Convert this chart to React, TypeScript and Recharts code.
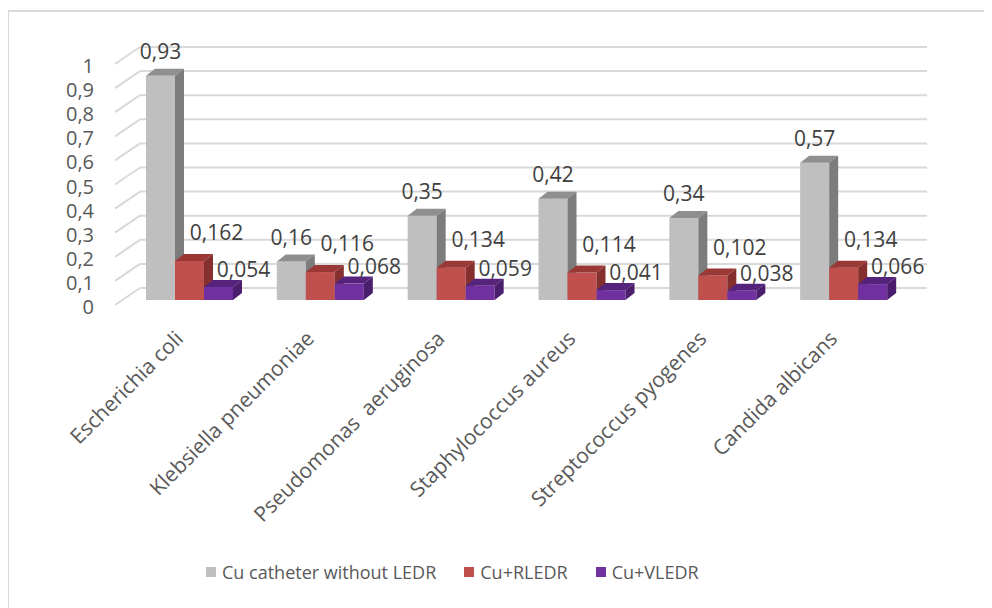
import React from "react";
import { BarChart, Bar, XAxis, YAxis, CartesianGrid, LabelList } from "recharts";

const categories = [
  "Escherichia coli",
  "Klebsiella pneumoniae",
  "Pseudomonas  aeruginosa",
  "Staphylococcus aureus",
  "Streptococcus pyogenes",
  "Candida albicans",
];
const withoutLedr = [0.93, 0.16, 0.35, 0.42, 0.34, 0.57];
const rLedr = [0.162, 0.116, 0.134, 0.114, 0.102, 0.134];
const vLedr = [0.054, 0.068, 0.059, 0.041, 0.038, 0.066];
const yTicks = [0, 0.1, 0.2, 0.3, 0.4, 0.5, 0.6, 0.7, 0.8, 0.9, 1];
const seriesNames = ["Cu catheter without LEDR", "Cu+RLEDR", "Cu+VLEDR"];

const data = categories.map((name, i) => ({
  name,
  a: withoutLedr[i],
  b: rLedr[i],
  c: vLedr[i],
}));

const FONT = "'Open Sans', 'Noto Sans', sans-serif";
const TEXT = "#595959";
const GRID = "#d9d9d9";
const W = 983;
const H = 596;
const PLOT_BOTTOM = 288;
const DX = 9;
const DY = 7;

const palette = [
  { front: "#BFBFBF", top: "#8f8f8f", side: "#7c7c7c" },
  { front: "#C0504D", top: "#9a3836", side: "#85302e" },
  { front: "#7030A0", top: "#55227c", side: "#4a1e6c" },
];

// label nudges per series (gray above, red/purple pushed right like excel did)
const labelShift = [
  { x: 0, y: -24 },
  { x: 27, y: -28 },
  { x: 25, y: -17 },
];

const fmt = (v: number) => String(v).replace(".", ",");

const Bar3D = (props: any) => {
  const { x, y, width, height, col } = props;
  const c = palette[col];
  if (height == null) return null;
  const b = y + height;
  return (
    <g>
      <rect x={x} y={y} width={width} height={height} fill={c.front} />
      <polygon
        points={`${x},${y} ${x + DX},${y - DY} ${x + width + DX},${y - DY} ${x + width},${y}`}
        fill={c.top}
      />
      <polygon
        points={`${x + width},${y} ${x + width + DX},${y - DY} ${x + width + DX},${b - DY} ${x + width},${b}`}
        fill={c.side}
      />
    </g>
  );
};

const makeLabel = (col: number) => (props: any) => {
  const { x, y, width, value } = props;
  const s = labelShift[col];
  return (
    <text
      x={x + width / 2 + s.x}
      y={y + s.y}
      dy="0.35em"
      textAnchor="middle"
      fontFamily={FONT}
      fontSize={21}
      fill="#404040"
    >
      {fmt(value)}
    </text>
  );
};

// back wall lines with the little slanted floor lines on the left
const gridLine = (props: any) => {
  const { x1, x2, y1, key } = props;
  return (
    <g key={key}>
      <line x1={x1 - 9} y1={y1 + 5} x2={x1 + 16} y2={y1 - 12} stroke={GRID} strokeWidth={2} />
      <line x1={x1 + 16} y1={y1 - 12} x2={x2 + 18} y2={y1 - 12} stroke={GRID} strokeWidth={2} />
    </g>
  );
};

const YTick = (props: any) => {
  const { y, payload } = props;
  return (
    <text x={85} y={y + 7} dy="0.35em" textAnchor="end" fontFamily={FONT} fontSize={20} fill={TEXT}>
      {fmt(payload.value)}
    </text>
  );
};

const XTick = (props: any) => {
  const { x, payload } = props;
  const tx = x - 5;
  const ty = PLOT_BOTTOM + 40;
  return (
    <text
      x={tx}
      y={ty}
      transform={`rotate(-45, ${tx}, ${ty})`}
      textAnchor="end"
      fontFamily={FONT}
      fontSize={21}
      fill={TEXT}
      style={{ whiteSpace: "pre" }}
    >
      {payload.value}
    </text>
  );
};

const LegendBox = () => (
  <div
    style={{
      position: "absolute",
      left: 197,
      top: 547,
      display: "flex",
      alignItems: "center",
      fontFamily: FONT,
      fontSize: 18,
      lineHeight: "26px",
      color: TEXT,
    }}
  >
    {seriesNames.map((n, i) => (
      <div key={n} style={{ display: "flex", alignItems: "center", marginRight: 28 }}>
        <span style={{ width: 10, height: 10, background: palette[i].front, marginRight: 6, display: "inline-block" }} />
        <span>{n}</span>
      </div>
    ))}
  </div>
);

export default function App() {
  return (
    <div
      style={{
        position: "relative",
        marginLeft: -1,
        marginTop: 2,
        width: W,
        height: H,
        borderLeft: `2px solid ${GRID}`,
        borderTop: `2px solid ${GRID}`,
        background: "#fff",
      }}
    >
      <BarChart
        width={W}
        height={H}
        data={data}
        margin={{ top: 47, right: 83, bottom: H - PLOT_BOTTOM - 1, left: 55 }}
        barGap={0}
      >
        <CartesianGrid vertical={false} horizontal={gridLine} />
        <XAxis dataKey="name" axisLine={false} tickLine={false} tick={<XTick />} interval={0} height={1} />
        <YAxis
          domain={[0, 1]}
          ticks={yTicks}
          interval={0}
          axisLine={false}
          tickLine={false}
          width={60}
          tick={<YTick />}
        />
        {["a", "b", "c"].map((k, i) => (
          <Bar
            key={k}
            dataKey={k}
            name={seriesNames[i]}
            barSize={29}
            fill={palette[i].front}
            shape={(p: any) => <Bar3D {...p} col={i} />}
            isAnimationActive={false}
          >
            <LabelList dataKey={k} content={makeLabel(i)} />
          </Bar>
        ))}
      </BarChart>
      <LegendBox />
    </div>
  );
}
